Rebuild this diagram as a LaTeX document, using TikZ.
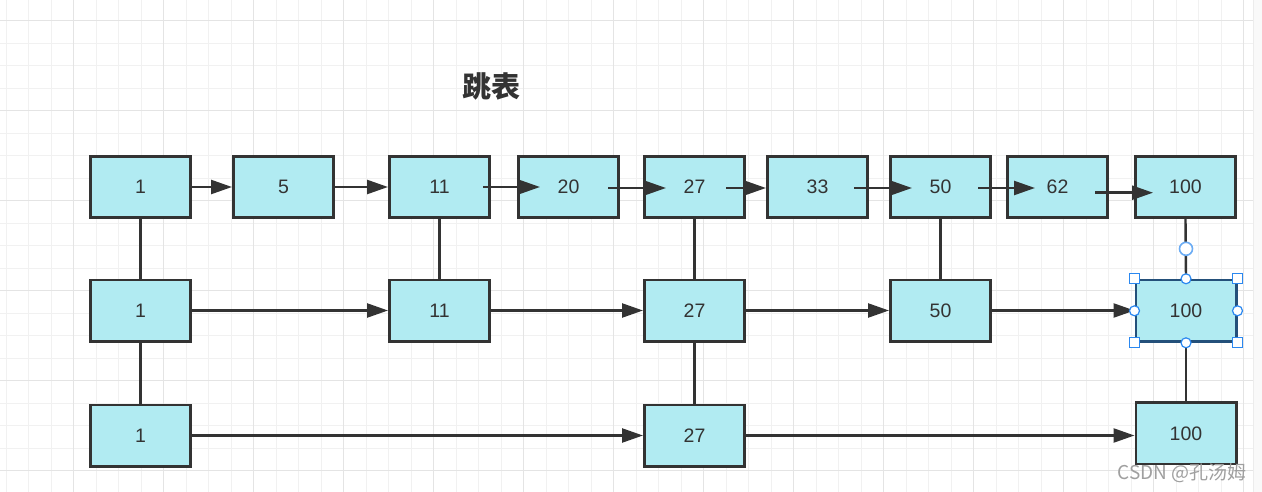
\documentclass[tikz,border=0pt]{standalone}
\usepackage{fontspec}
\setmainfont{Liberation Sans}
\newfontfamily\cjk{Noto Sans CJK SC}
\usetikzlibrary{arrows.meta,positioning}
\definecolor{boxfill}{HTML}{B1EBF2}
\definecolor{ink}{HTML}{333333}
\definecolor{gridminor}{HTML}{F1F1F1}
\definecolor{gridmajor}{HTML}{E4E4E4}
\definecolor{selblue}{HTML}{2B88F0}
\definecolor{selborder}{HTML}{24507A}

\begin{document}
\begin{tikzpicture}[x=1pt,y=-1pt,
				elem/.style={draw=ink,fill=boxfill,line width=2.6pt,minimum width=100.4pt,minimum height=61.4pt,inner sep=0pt,text=ink,font=\fontsize{19.5}{20}\selectfont},
				link/.style={draw=ink,line width=2.4pt,-{Triangle[length=21pt,width=14pt]}},
				level/.style={draw=ink,line width=2.4pt},
				sqhandle/.style={draw=selblue,fill=white,line width=1.2pt,minimum size=10pt,inner sep=0pt},
				cihandle/.style={draw=selblue,fill=white,line width=1.2pt,circle,minimum size=10pt,inner sep=0pt}
			]
			\useasboundingbox (0,0) rectangle (1262,492);
			\fill[white] (0,0) rectangle (1262,492);
			% background grid
			\foreach \i in {0,...,55}
				\draw[gridminor,line width=1pt] ({6+22.5*\i},0) -- ({6+22.5*\i},492);
			\foreach \j in {0,...,20}
				\draw[gridminor,line width=1pt] (0,{20.7+22.5*\j}) -- (1253,{20.7+22.5*\j});
			\foreach \i in {0,...,13}
				\draw[gridmajor,line width=1pt] ({73.3+90*\i},0) -- ({73.3+90*\i},492);
			\foreach \j in {0,...,5}
				\draw[gridmajor,line width=1pt] (0,{20.7+90*\j}) -- (1253,{20.7+90*\j});
			\fill[gray!5] (1253,0) rectangle (1262,492);
			\draw[gray!15,line width=1pt] (1253,0) -- (1253,492);

			\node[font=\cjk\bfseries\fontsize{29}{30}\selectfont,text=ink] (title) at (491.5,86) {跳表};

			% level 0
			\node[elem] (t1) at (140.5,187) {1};
			\node[elem] (t5) at (283.5,187) {5};
			\node[elem] (t11) at (439.5,187) {11};
			\node[elem] (t20) at (568.5,187) {20};
			\node[elem] (t27) at (694.5,187) {27};
			\node[elem] (t33) at (817.5,187) {33};
			\node[elem] (t50) at (940.5,187) {50};
			\node[elem] (t62) at (1057.5,187) {62};
			\node[elem] (t100) at (1185.5,187) {100};
			% level 1
			\node[elem] (m1) at (140.5,310.5) {1};
			\node[elem] (m11) at (439.5,310.5) {11};
			\node[elem] (m27) at (694.5,310.5) {27};
			\node[elem] (m50) at (940.5,310.5) {50};
			\node[elem,draw=selborder] (m100) at (1186,310.8) {100};
			% level 2
			\node[elem] (b1) at (140.5,435.5) {1};
			\node[elem] (b27) at (694.5,435.5) {27};
			\node[elem] (b100) at (1186,433.3) {100};

			\draw[level] (t1) -- (m1);
			\draw[level] (m1) -- (b1);
			\draw[level] (t11) -- (m11);
			\draw[level] (t27) -- (m27);
			\draw[level] (m27) -- (b27);
			\draw[level] (t50) -- (m50);
			\draw[level] (t100.south) -- (m100.north);
			\draw[level] (m100.south) -- (b100.north);

			\draw[link] (t1.east) -- (t5.west);
			\draw[link] (t5.east) -- (t11.west);
			\draw[link] ([xshift=-8pt]t11.east) -- ([xshift=23pt]t20.west);
			\draw[link] ([xshift=-12pt,yshift=-1pt]t20.east) -- ([xshift=23pt,yshift=-1pt]t27.west);
			\draw[link] ([xshift=-20pt,yshift=-1pt]t27.east) -- ([yshift=-1pt]t33.west);
			\draw[link] ([xshift=-15pt,yshift=-1pt]t33.east) -- ([xshift=23pt,yshift=-1pt]t50.west);
			\draw[link] ([xshift=-14pt,yshift=-1pt]t50.east) -- ([xshift=29pt,yshift=-1pt]t62.west);
			\draw[link] ([xshift=-14pt,yshift=-5.7pt]t62.east) -- ([xshift=19pt,yshift=-5.7pt]t100.west);

			\draw[link] (m1.east) -- (m11.west);
			\draw[link] (m11.east) -- (m27.west);
			\draw[link] (m27.east) -- (m50.west);
			\draw[link] (m50.east) -- (m50.east -| m100.west);

			\draw[link] (b1.east) -- (b27.west);
			\draw[link] (b27.east) -- (b27.east -| b100.west);

			% selection handles
			\node[cihandle,minimum size=13pt,line width=1.6pt,draw=selblue!70] (rot) at ([yshift=30pt]m100.north) {};
			\foreach \a/\n in {north west/hnw,north east/hne,south west/hsw,south east/hse}
				\node[sqhandle] (\n) at (m100.\a) {};
			\foreach \a/\n in {north/hn,south/hs,east/he,west/hw}
				\node[cihandle] (\n) at (m100.\a) {};

			\node[font=\cjk\fontsize{19}{20}\selectfont,text=gray!75] (mark) at (1182,473) {CSDN @孔汤姆};
		\end{tikzpicture}
\end{document}
